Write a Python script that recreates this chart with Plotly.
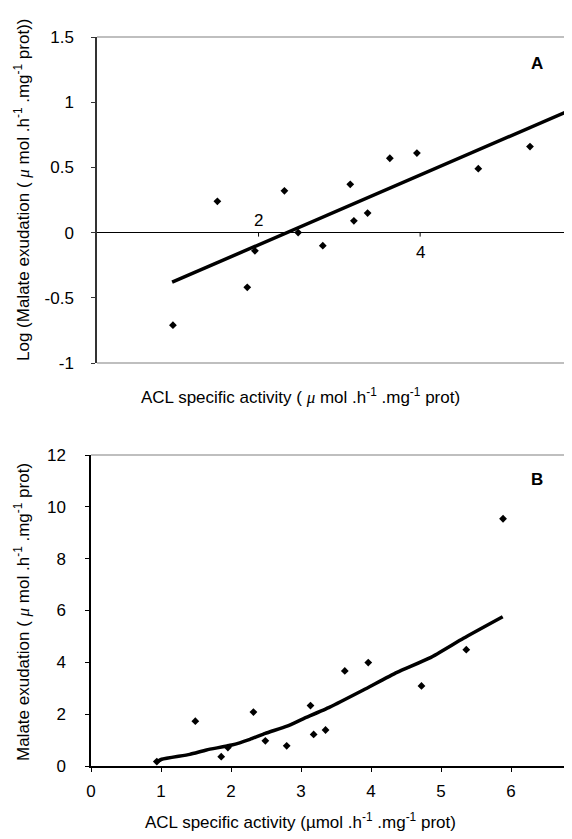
import plotly.graph_objects as go

# ---- data ----
acl_activity = [0.94, 1.49, 1.86, 1.955, 2.32, 2.49, 2.795, 3.135, 3.18, 3.35, 3.625, 3.96, 4.72, 5.36, 5.885]
log_malate = [-0.71, 0.24, -0.42, -0.14, 0.32, 0.0, -0.10, 0.37, 0.09, 0.15, 0.57, 0.61, 0.49, 0.66, 0.97]
malate = [0.17, 1.73, 0.36, 0.71, 2.08, 0.97, 0.78, 2.33, 1.22, 1.39, 3.67, 3.99, 3.09, 4.49, 9.54]

fitA_x = [0.93, 5.9]
fitA_y = [-0.38, 0.95]

fitB_x = [0.95, 1.01, 1.41, 1.65, 2.01, 2.27, 2.49, 2.80, 3.03, 3.41, 3.89, 4.37, 4.84, 5.32, 5.88]
fitB_y = [0.17, 0.26, 0.45, 0.62, 0.81, 1.03, 1.26, 1.54, 1.82, 2.27, 2.93, 3.61, 4.17, 4.93, 5.76]

A_xticks = [2, 4]
A_yticks = [-1, -0.5, 0, 0.5, 1, 1.5]
A_ylabels = ["-1", "-0.5", "0", "0.5", "1", "1.5"]
B_xticks = [0, 1, 2, 3, 4, 5, 6]
B_yticks = [0, 2, 4, 6, 8, 10, 12]

FONT = "Liberation Sans, Arial, sans-serif"
MU = '<span style="font-family:Liberation Serif"><i>μ</i></span>'

W, H = 572, 839
OFF = 8  # page body margin: the figure is drawn 8px right/down in the window


def px(sx):
    return (sx - OFF) / W


def py(sy):
    return 1 - (sy - OFF) / H


fig = go.Figure()

# Panel A
fig.add_trace(go.Scatter(x=fitA_x, y=fitA_y, mode="lines",
                         line=dict(color="black", width=3.5), xaxis="x", yaxis="y", showlegend=False))
fig.add_trace(go.Scatter(x=acl_activity, y=log_malate, mode="markers", cliponaxis=False,
                         marker=dict(symbol="diamond", size=6, color="black"),
                         xaxis="x", yaxis="y", showlegend=False))
# Panel B
fig.add_trace(go.Scatter(x=fitB_x, y=fitB_y, mode="lines",
                         line=dict(color="black", width=3.5, shape="spline", smoothing=0.5),
                         xaxis="x2", yaxis="y2", showlegend=False))
fig.add_trace(go.Scatter(x=acl_activity, y=malate, mode="markers",
                         marker=dict(symbol="diamond", size=6, color="black"),
                         xaxis="x2", yaxis="y2", showlegend=False))

axfont = dict(family=FONT, size=17, color="black")

fig.update_layout(
    template="none",
    width=W, height=H,
    margin=dict(l=0, r=0, t=0, b=0, pad=0),
    paper_bgcolor="white", plot_bgcolor="white",
    font=dict(family=FONT, color="black"),
    xaxis=dict(domain=[px(97), px(572)], range=[0, 5.88], anchor="y", automargin=False,
               showline=False, showgrid=False, zeroline=False,
               showticklabels=False, ticks=""),
    yaxis=dict(domain=[py(363), py(37)], range=[-1, 1.5], anchor="x", automargin=False,
               tickvals=A_yticks, ticktext=A_ylabels, ticks="outside", ticklen=4,
               tickcolor="#333", showline=True, linecolor="#333", linewidth=1.5,
               showgrid=False, zeroline=True, zerolinecolor="black", zerolinewidth=1,
               tickfont=axfont, ticklabelstandoff=14),
    xaxis2=dict(domain=[px(91), px(572)], range=[0, 6.87], anchor="y2", automargin=False,
                tickvals=B_xticks, ticks="outside", ticklen=4, tickcolor="black",
                showline=True, linecolor="black", linewidth=1.5,
                showgrid=False, zeroline=False, tickfont=axfont, ticklabelstandoff=5),
    yaxis2=dict(domain=[py(766), py(455)], range=[0, 12], anchor="x2", automargin=False,
                tickvals=B_yticks, ticks="outside", ticklen=4, tickcolor="black",
                showline=True, linecolor="black", linewidth=1.5,
                showgrid=False, zeroline=False, tickfont=axfont, ticklabelstandoff=16),
)

shapes = []
# grey frame lines
for yv in (0, 1):
    shapes.append(dict(type="line", xref="x domain", yref="y domain", x0=0, x1=1, y0=yv, y1=yv,
                       line=dict(color="#aaaaaa", width=1.5)))
shapes.append(dict(type="line", xref="x2 domain", yref="y2 domain", x0=0, x1=1, y0=1, y1=1,
                   line=dict(color="#aaaaaa", width=1.5)))
# tick marks on the zero line of panel A
for t in A_xticks:
    shapes.append(dict(type="line", xref="x", yref="y", ysizemode="pixel", yanchor=0,
                       x0=t, x1=t, y0=0, y1=-4, line=dict(color="black", width=1)))
fig.update_layout(shapes=shapes)

C = dict(xanchor="center", yanchor="middle", showarrow=False)
ann = []
ann.append(dict(x=A_xticks[0], y=0, xref="x", yref="y", text=str(A_xticks[0]),
                yshift=12, font=axfont, **C))
ann.append(dict(x=A_xticks[1], y=0, xref="x", yref="y", text=str(A_xticks[1]),
                yshift=-20, font=axfont, **C))
ann.append(dict(x=px(537), y=py(63), xref="paper", yref="paper", text="<b>A</b>",
                font=dict(family=FONT, size=17), **C))
ann.append(dict(x=px(537), y=py(479), xref="paper", yref="paper", text="<b>B</b>",
                font=dict(family=FONT, size=17), **C))
ann.append(dict(x=px(300), y=py(396), xref="paper", yref="paper",
                text="ACL specific activity ( " + MU + " mol .h<sup>-1</sup> .mg<sup>-1</sup> prot)",
                font=dict(family=FONT, size=17), **C))
ann.append(dict(x=px(300), y=py(821), xref="paper", yref="paper",
                text="ACL specific activity (µmol .h<sup>-1</sup> .mg<sup>-1</sup> prot)",
                font=dict(family=FONT, size=17), **C))
ann.append(dict(x=px(22), y=py(190), xref="paper", yref="paper", textangle=-90,
                text="Log (Malate exudation ( " + MU + " mol .h<sup>-1</sup> .mg<sup>-1</sup> prot))",
                font=dict(family=FONT, size=17), **C))
ann.append(dict(x=px(22), y=py(612), xref="paper", yref="paper", textangle=-90,
                text="Malate exudation ( " + MU + " mol .h<sup>-1</sup> .mg<sup>-1</sup> prot)",
                font=dict(family=FONT, size=17), **C))
fig.update_layout(annotations=ann)

fig.write_html("out.html")
